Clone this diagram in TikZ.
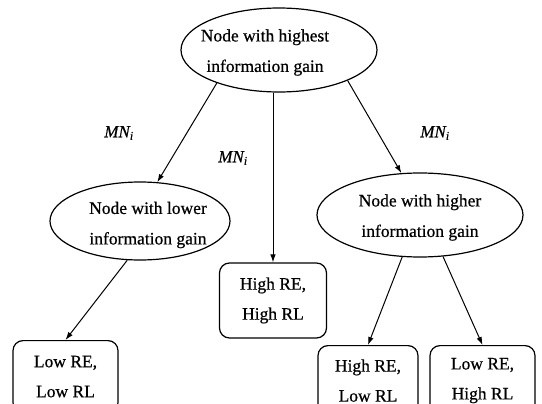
\documentclass[tikz,border=0pt]{standalone}
\usepackage{fontspec}
\setmainfont{Liberation Serif}[FakeBold=0.6]
\usetikzlibrary{shapes.geometric,arrows.meta}

\begin{document}
\begin{tikzpicture}[x=1pt,y=-1pt,
	oval/.style={draw,ellipse,line width=1.2pt,inner sep=0pt},
	txt/.style={align=center,font=\fontsize{17.5}{30.5}\selectfont},
	leaf/.style={draw,rounded corners=10pt,line width=1.2pt,inner sep=0pt,align=center,font=\fontsize{17.5}{30}\selectfont},
	edge/.style={line width=1pt,-{Latex[length=8pt,width=5.5pt]}},
	lbl/.style={font=\fontsize{17}{17}\selectfont\itshape}]
			\useasboundingbox (0,0) rectangle (542,404);
			\clip (0,0) rectangle (542,404);
			% decision nodes
			\node[oval,minimum width=196pt,minimum height=84pt] (top) at (279,50) {};
			\node[txt] (toptxt) at (265,52.5) {Node with highest\\information gain};
			\node[oval,minimum width=180pt,minimum height=78pt] (low) at (140,221) {};
			\node[txt] (lowtxt) at (148,225) {Node with lower\\information gain};
			\node[oval,minimum width=206pt,minimum height=84pt] (high) at (420,215) {};
			\node[txt] (hightxt) at (420,217.5) {Node with higher\\information gain};
			% leaves
			\node[leaf,minimum width=107pt,minimum height=75pt] (hh) at (273,300.5) {High RE,\\High RL};
			\node[leaf,minimum width=105pt,minimum height=72pt,anchor=north] (ll) at (65.5,340) {Low RE,\\Low RL};
			\node[leaf,minimum width=100pt,minimum height=70pt,anchor=north] (hl) at (368,345) {High RE,\\Low RL};
			\node[leaf,minimum width=105pt,minimum height=70pt,anchor=north] (lh) at (482.5,345) {Low RE,\\High RL};
			% edges
			\draw[edge] (top.208) -- (low.66);
			\draw[edge] (hh.north |- top.south) -- (hh.north);
			\draw[edge] (top.336) -- (high.114);
			\draw[edge] (low.252) -- (ll.north);
			\draw[edge] (high.247) -- (hl.north);
			\draw[edge] (high.299) -- (lh.north);
			\node[lbl] (m1) at (119,133) {MN\textsubscript{i}};
			\node[lbl] (m2) at (233,158) {MN\textsubscript{i}};
			\node[lbl] (m3) at (435,133) {MN\textsubscript{i}};
		\end{tikzpicture}
\end{document}
